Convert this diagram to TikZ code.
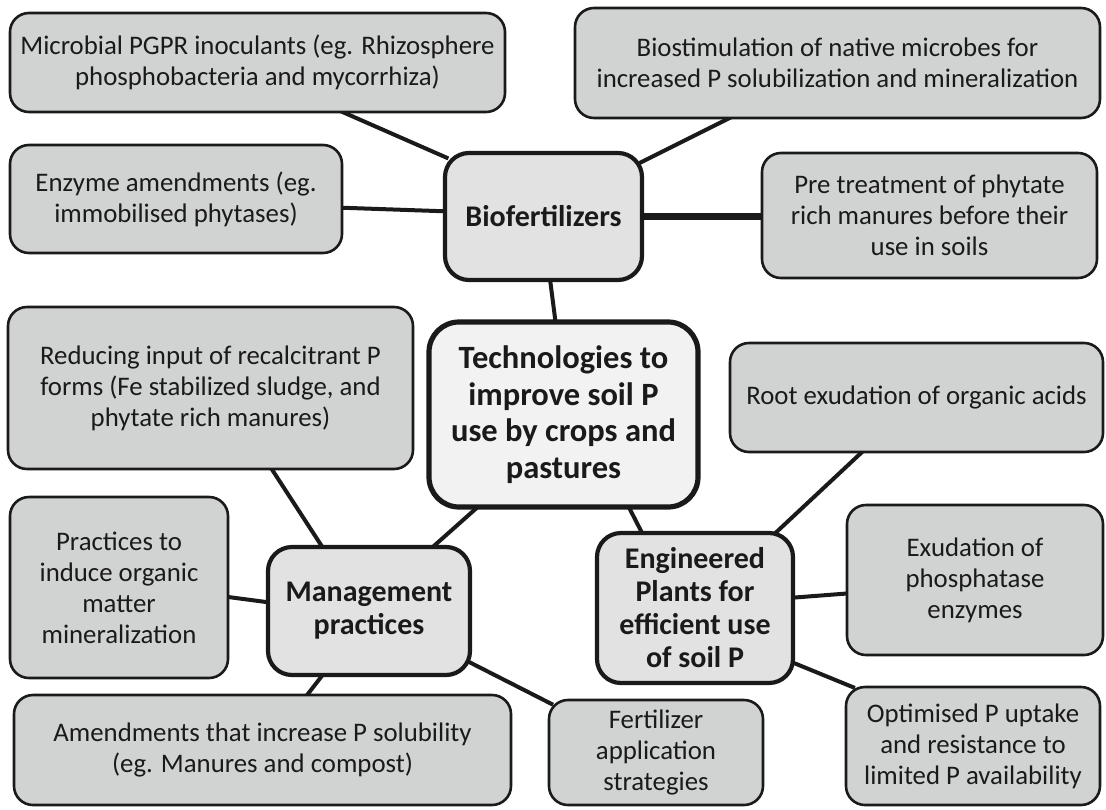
\documentclass[tikz,border=0pt]{standalone}
\usepackage{fontspec}
\setmainfont{Carlito}
\usetikzlibrary{backgrounds}
\definecolor{leafgray}{HTML}{D1D2D2}
\definecolor{hubgray}{HTML}{E2E2E2}
\definecolor{coregray}{HTML}{F2F2F2}
\definecolor{ink}{HTML}{1A1A1A}
\tikzset{
  leaf/.style = {draw=ink, fill=leafgray, line width=2.6pt, rounded corners=19pt,
    align=center, inner sep=2pt, text=ink, font=\fontsize{26.8}{31}\selectfont},
  hub/.style = {draw=ink, fill=hubgray, line width=4.2pt, rounded corners=24pt,
    align=center, inner sep=2pt, text=ink, font=\fontsize{30}{33}\selectfont\bfseries},
  core/.style = {draw=ink, fill=coregray, line width=5.2pt, rounded corners=30pt,
    align=center, inner sep=2pt, text=ink, font=\fontsize{32.5}{36.7}\selectfont\bfseries},
  link/.style = {draw=ink, line width=4pt, shorten <=-6pt, shorten >=-6pt},
}
\begin{document}
\begin{tikzpicture}[x=1pt, y=-1pt]
\useasboundingbox (0,0) rectangle (1106,809);

% outer boxes
\node[leaf, minimum width=495pt, minimum height=99pt] (micro) at (257.5,62.5) {Microbial PGPR inoculants (eg. Rhizosphere\\phosphobacteria and mycorrhiza)};
\node[leaf, minimum width=525pt, minimum height=110pt] (biostim) at (837.5,63) {Biostimulation of native microbes for\\increased P solubilization and mineralization};
\node[leaf, minimum width=332pt, minimum height=108pt] (enzyme) at (176,199) {Enzyme amendments (eg.\\immobilised phytases)};
\node[leaf, minimum width=335pt, minimum height=125pt] (pretreat) at (929.5,215.5) {Pre treatment of phytate\\rich manures before their\\use in soils};
\node[leaf, minimum width=405pt, minimum height=162pt] (reduce) at (210.5,388) {Reducing input of recalcitrant P\\forms (Fe stabilized sludge, and\\phytate rich manures)};
\node[leaf, minimum width=373pt, minimum height=109pt] (root) at (916.5,397.5) {Root exudation of organic acids};
\node[leaf, minimum width=218pt, minimum height=181pt] (practices) at (119,587.5) {Practices to\\induce organic\\matter\\mineralization};
\node[leaf, minimum width=256pt, minimum height=150pt] (exud) at (975,580) {Exudation of\\phosphatase\\enzymes};
\node[leaf, minimum width=497pt, minimum height=110pt] (amend) at (262.5,750) {Amendments that increase P solubility\\(eg. Manures and compost)};
\node[leaf, minimum width=214pt, minimum height=105pt] (fert) at (656,752.5) {Fertilizer\\application\\strategies};
\node[leaf, minimum width=254pt, minimum height=118pt] (optim) at (973,746) {Optimised P uptake\\and resistance to\\limited P availability};

% centre boxes
\node[hub, minimum width=197pt, minimum height=127pt] (biofert) at (543.5,216.5) {Biofertilizers};
\node[core, minimum width=269pt, minimum height=185pt] (tech) at (563.5,414.5) {Technologies to\\improve soil P\\use by crops and\\pastures};
\node[hub, minimum width=202pt, minimum height=128pt] (manage) at (369,611) {Management\\practices};
\node[hub, minimum width=196pt, minimum height=150pt] (engin) at (695,608) {Engineered\\Plants for\\efficient use\\of soil P};

\begin{scope}[on background layer]
\draw[link] (micro.-30) -- (biofert.149);
\draw[link] (biostim.207) -- (biofert.29);
\draw[link] (enzyme.-3) -- (biofert.177);
\draw[link, line width=7pt] (biofert.east) -- (biofert.east -| pretreat.west);
\draw[link] (biofert.-84) -- (tech.95);
\draw[link] (reduce.-53) -- (manage.126);
\draw[link] (tech.227) -- (manage.45);
\draw[link] (tech.-55) -- (engin.125);
\draw[link] (root.225) -- (engin.43);
\draw[link] (practices.-5) -- (manage.175);
\draw[link] (exud.186) -- (engin.6);
\draw[link] (engin.-29) -- (optim.154);
\draw[link] (manage.234) -- (amend.51);
\draw[link] (manage.-27) -- (fert.155);
\end{scope}

\end{tikzpicture}
\end{document}
